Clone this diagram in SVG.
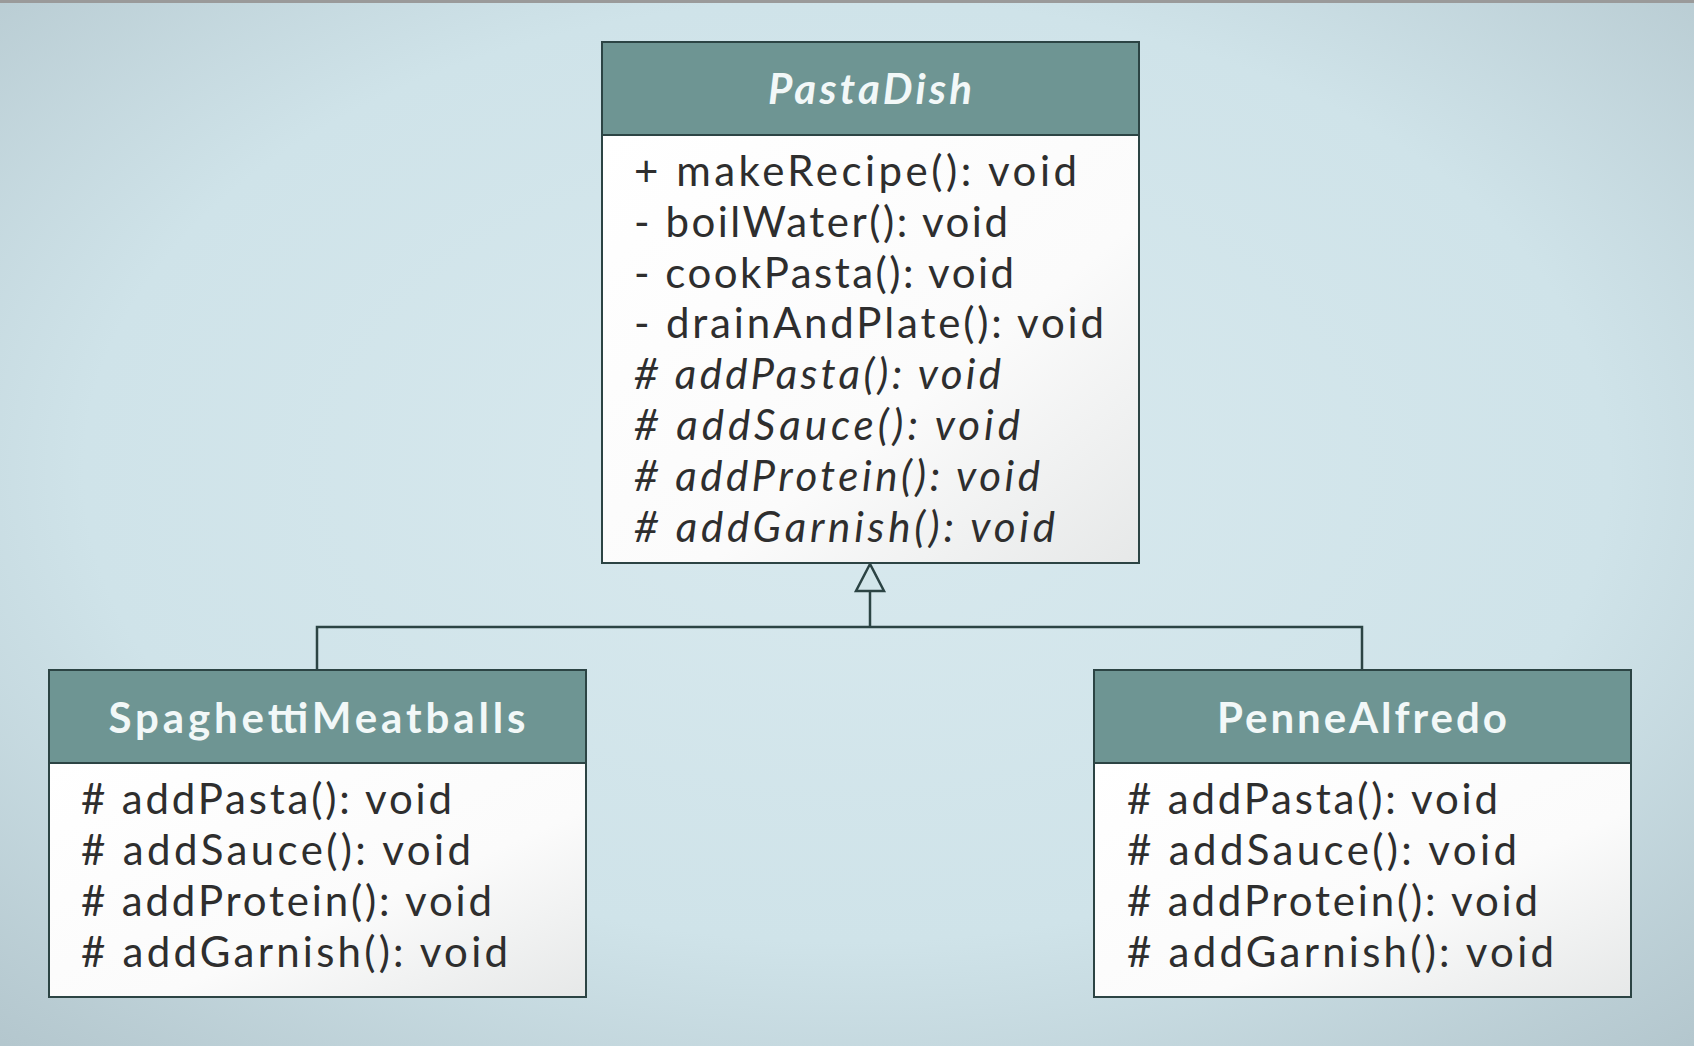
<svg xmlns="http://www.w3.org/2000/svg" width="1694" height="1046" viewBox="0 0 1694 1046">
<defs>
<radialGradient id="bg" cx="0.5" cy="0.45" r="0.75">
<stop offset="0" stop-color="#d8e9ee"/>
<stop offset="0.6" stop-color="#cfe3e9"/>
<stop offset="1" stop-color="#b3c6cd"/>
</radialGradient>
<linearGradient id="body" x1="0" y1="0" x2="1" y2="1">
<stop offset="0" stop-color="#ffffff"/>
<stop offset="0.6" stop-color="#fbfbfb"/>
<stop offset="1" stop-color="#e6e8e8"/>
</linearGradient>
<style>
.hdr{fill:#6e9593;stroke:#2c4444;stroke-width:2}
.bdy{fill:url(#body);stroke:#2c4444;stroke-width:2}
.title{font-family:Lato,"Open Sans",sans-serif;font-size:42px;font-weight:700;fill:#f2f8f8;text-anchor:middle}
.m{font-family:Lato,"Open Sans",sans-serif;font-size:42px;fill:#2e2e2e}
.it{font-style:italic}
.conn{fill:none;stroke:#2c4444;stroke-width:2.5}
</style>
</defs>
<rect x="0" y="0" width="1694" height="1046" fill="url(#bg)"/>
<rect x="0" y="0" width="1694" height="3" fill="#9a9a9a"/>
<g id="connectors">
<polyline class="conn" points="317,670 317,627 1362,627 1362,670"/>
<line class="conn" x1="870" y1="627" x2="870" y2="591"/>
<polygon points="870,564 856,591 884,591" fill="#d2e6ea" stroke="#2c4444" stroke-width="2.5"/>
</g>
<g id="PastaDish">
<rect class="bdy" x="602" y="135" width="537" height="428"/>
<rect class="hdr" x="602" y="42" width="537" height="93"/>
<text class="title it" x="870" y="104" textLength="204" lengthAdjust="spacing">PastaDish</text>
<text class="m" x="634" y="186" textLength="443" lengthAdjust="spacing">+ makeRecipe(): void</text>
<text class="m" x="634" y="237" textLength="374" lengthAdjust="spacing">- boilWater(): void</text>
<text class="m" x="634" y="288" textLength="380" lengthAdjust="spacing">- cookPasta(): void</text>
<text class="m" x="634" y="338" textLength="470" lengthAdjust="spacing">- drainAndPlate(): void</text>
<text class="m it" x="634" y="389" textLength="367" lengthAdjust="spacing"># addPasta(): void</text>
<text class="m it" x="634" y="440" textLength="386" lengthAdjust="spacing"># addSauce(): void</text>
<text class="m it" x="634" y="491" textLength="406" lengthAdjust="spacing"># addProtein(): void</text>
<text class="m it" x="634" y="542" textLength="421" lengthAdjust="spacing"># addGarnish(): void</text>
</g>
<g id="SpaghettiMeatballs">
<rect class="bdy" x="49" y="763" width="537" height="234"/>
<rect class="hdr" x="49" y="670" width="537" height="93"/>
<text class="title" x="317" y="733" textLength="417" lengthAdjust="spacing">SpaghettiMeatballs</text>
<text class="m" x="81" y="814" textLength="371" lengthAdjust="spacing"># addPasta(): void</text>
<text class="m" x="81" y="865" textLength="390" lengthAdjust="spacing"># addSauce(): void</text>
<text class="m" x="81" y="916" textLength="411" lengthAdjust="spacing"># addProtein(): void</text>
<text class="m" x="81" y="967" textLength="427" lengthAdjust="spacing"># addGarnish(): void</text>
</g>
<g id="PenneAlfredo">
<rect class="bdy" x="1094" y="763" width="537" height="234"/>
<rect class="hdr" x="1094" y="670" width="537" height="93"/>
<text class="title" x="1362" y="733" textLength="290" lengthAdjust="spacing">PenneAlfredo</text>
<text class="m" x="1127" y="814" textLength="371" lengthAdjust="spacing"># addPasta(): void</text>
<text class="m" x="1127" y="865" textLength="390" lengthAdjust="spacing"># addSauce(): void</text>
<text class="m" x="1127" y="916" textLength="411" lengthAdjust="spacing"># addProtein(): void</text>
<text class="m" x="1127" y="967" textLength="427" lengthAdjust="spacing"># addGarnish(): void</text>
</g>
</svg>
